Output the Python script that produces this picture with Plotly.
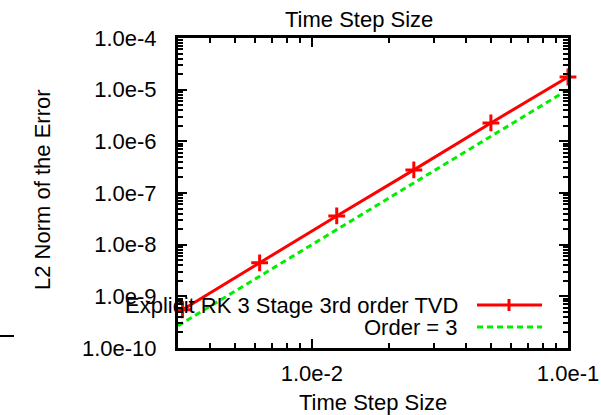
import plotly.graph_objects as go

# ---- data ----
dt = [0.003125, 0.00625, 0.0125, 0.025, 0.05, 0.1]
err_rk3 = [5.5e-10, 4.45e-9, 3.6e-8, 2.8e-7, 2.27e-6, 1.76e-5]
order_x = [0.003, 0.00625, 0.0125, 0.025, 0.05, 0.1]
order_y = [2.7e-10, 2.44e-9, 1.95e-8, 1.56e-7, 1.25e-6, 1.0e-5]
x_tickvals = [0.01, 0.1]
x_ticktext = ["1.0e-2", "1.0e-1"]
y_tickvals = [1e-10, 1e-9, 1e-8, 1e-7, 1e-6, 1e-5, 1e-4]
y_ticktext = ["1.0e-10", "1.0e-9", "1.0e-8", "1.0e-7", "1.0e-6", "1.0e-5", "1.0e-4"]
series_names = ["Explicit RK 3 Stage 3rd order TVD", "Order = 3"]
x_label = "Time Step Size"
y_label = "L2 Norm of the Error"
title_text = "Time Step Size"

FONT = "Liberation Sans, Arial, sans-serif"
FS = 22
L, R, T, B = 178, 33, 38, 67
W, H = 601, 415
PW, PH = W - L - R, H - T - B

def px_x(p):
    return (p - L) / PW

def px_y(p):
    return (H - B - p) / PH

fig = go.Figure()
fig.add_trace(go.Scatter(
    x=order_x, y=order_y, mode="lines", name=series_names[1],
    line=dict(color="#00ee00", width=3, dash="6px,4px"),
    showlegend=False, cliponaxis=False))
fig.add_trace(go.Scatter(
    x=dt, y=err_rk3, mode="lines", name=series_names[0],
    line=dict(color="#ff0000", width=3),
    showlegend=False, cliponaxis=False))
fig.add_trace(go.Scatter(
    x=dt, y=err_rk3, mode="markers", name=series_names[0] + " points",
    marker=dict(symbol="cross-thin", size=12, color="#ff0000",
                line=dict(color="#ff0000", width=3)),
    showlegend=False, cliponaxis=False))

axis_common = dict(
    type="log", showline=True, linecolor="black", linewidth=3, mirror="allticks",
    ticks="inside", ticklen=9, tickwidth=2, tickcolor="black",
    showgrid=False, zeroline=False, tickmode="array", automargin=False,
    tickfont=dict(family=FONT, size=FS, color="black"),
    minor=dict(ticks="inside", ticklen=5, tickwidth=2, tickcolor="black", dtick="D1", showgrid=False),
)
fig.update_xaxes(range=[-2.5229, -0.99999], ticklabelstandoff=4,
                 tickvals=x_tickvals, ticktext=x_ticktext, **axis_common)
fig.update_yaxes(range=[-10, -4], ticklabelstandoff=14,
                 tickvals=y_tickvals, ticktext=y_ticktext, **axis_common)

ann = []
ann.append(dict(text=title_text, x=px_x(359), y=px_y(20), xref="paper", yref="paper",
                xanchor="center", yanchor="middle", showarrow=False,
                font=dict(family=FONT, size=FS, color="black")))
ann.append(dict(text=x_label, x=px_x(373), y=px_y(402), xref="paper", yref="paper",
                xanchor="center", yanchor="middle", showarrow=False,
                font=dict(family=FONT, size=FS, color="black")))
ann.append(dict(text=y_label, x=px_x(42), y=px_y(190), xref="paper", yref="paper",
                xanchor="center", yanchor="middle", showarrow=False, textangle=-90,
                font=dict(family=FONT, size=FS, color="black")))
ann.append(dict(text=series_names[0], x=px_x(460), y=px_y(305), xref="paper", yref="paper",
                xanchor="right", yanchor="middle", showarrow=False,
                font=dict(family=FONT, size=FS, color="black")))
ann.append(dict(text=series_names[1], x=px_x(460), y=px_y(327), xref="paper", yref="paper",
                xanchor="right", yanchor="middle", showarrow=False,
                font=dict(family=FONT, size=FS, color="black")))

shapes = [
    dict(type="line", xref="paper", yref="paper", x0=px_x(477), x1=px_x(542),
         y0=px_y(305), y1=px_y(305), line=dict(color="#ff0000", width=3)),
    dict(type="line", xref="paper", yref="paper", x0=px_x(509), x1=px_x(509),
         y0=px_y(299), y1=px_y(311), line=dict(color="#ff0000", width=3)),
    dict(type="line", xref="paper", yref="paper", x0=px_x(477), x1=px_x(542),
         y0=px_y(327), y1=px_y(327), line=dict(color="#00ee00", width=3, dash="6px,4px")),
    dict(type="line", xref="paper", yref="paper", x0=px_x(0), x1=px_x(14),
         y0=px_y(336), y1=px_y(336), line=dict(color="black", width=2)),
]

fig.update_layout(
    width=W, height=H, margin=dict(l=L, r=R, t=T, b=B),
    paper_bgcolor="white", plot_bgcolor="white",
    annotations=ann, shapes=shapes, showlegend=False,
    font=dict(family=FONT, size=FS, color="black"),
)
fig.write_html("out.html")
